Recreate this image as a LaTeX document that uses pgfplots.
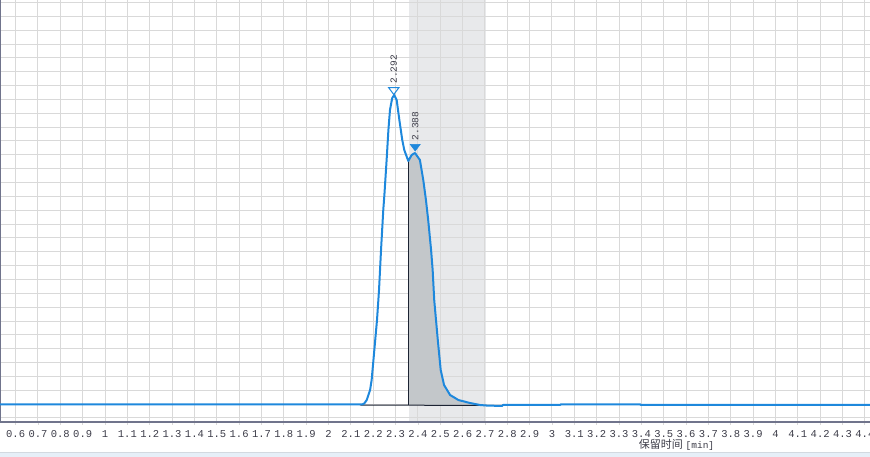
\documentclass[border=0pt]{standalone}
\usepackage{pgfplots}
\pgfplotsset{compat=1.18}
\usepackage{fontspec}
\setmainfont{Liberation Sans}
\newfontfamily\monofont{Liberation Mono}
\newfontfamily\cjk{Noto Sans CJK SC}
\definecolor{curve}{HTML}{1E88DC}
\definecolor{gridcol}{HTML}{D9D9D9}
\definecolor{axiscol}{HTML}{70748C}
\definecolor{bandcol}{HTML}{E8E9EB}
\definecolor{peakfill}{HTML}{C3C7CA}
\definecolor{darkline}{HTML}{1C2333}
\definecolor{labelcol}{HTML}{3C3C48}
\definecolor{stripcol}{HTML}{E6EFF8}
\pgfplotstableread{
x y
0.530 17.5
2.150 17.5
2.160 18.5
2.171 22
2.186 32
2.193 42
2.205 72
2.217 102
2.226 132
2.235 172
2.245 212
2.250 227
2.260 262
2.268 292
2.275 312
2.285 324
2.294 327
2.305 322
2.317 302
2.330 282
2.339 272
2.357 261
2.372 267
2.387 269
2.409 262
2.424 242
2.436 222
2.446 202
2.459 172
2.466 152
2.473 122
2.489 82
2.502 52
2.517 37
2.544 27
2.581 22
2.633 19
2.678 17
2.705 16.5
2.776 16
2.781 17
3.036 17
3.040 17.7
3.394 17.7
3.398 17
4.423 17
}\signal
\begin{document}
\begin{tikzpicture}
\begin{axis}[
  set layers=standard,
  at={(0,0)}, anchor=south west,
  width=870pt, height=422pt, scale only axis,
  xmin=0.53, xmax=4.423, ymin=0, ymax=422,
  axis lines*=left,
  axis line style={draw=axiscol, line width=1.5pt},
  grid=major, grid style={draw=gridcol, line width=1pt},
  xtick={0.6,0.7,...,4.45},
  xticklabels={0.6,0.7,0.8,0.9,1,1.1,1.2,1.3,1.4,1.5,1.6,1.7,1.8,1.9,2,2.1,2.2,2.3,2.4,2.5,2.6,2.7,2.8,2.9,3,3.1,3.2,3.3,3.4,3.5,3.6,3.7,3.8,3.9,4,4.1,4.2,4.3,4.4},
  ytick={4,17.85,...,421},
  yticklabels={},
  ytick style={draw=none},
  xtick style={draw=gridcol, line width=0.8pt},
  tick align=outside, major tick length=3pt,
  x tick label style={font=\monofont\fontsize{10.5}{11}\selectfont, text=labelcol, inner sep=0pt, anchor=north, yshift=-5pt},
  xlabel={{\cjk\fontsize{11}{11}\selectfont 保留时间} {\monofont\fontsize{9.5}{10}\selectfont [min]}},
  xlabel style={at={(axis description cs:0.7776,0)}, anchor=center, yshift=-22.5pt, text=labelcol, inner sep=0pt},
]
\addplot[fill=bandcol, draw=none, on layer=axis background] coordinates {(2.36,0) (2.36,422) (2.705,422) (2.705,0)};
\addplot[fill=peakfill, draw=none] coordinates {(2.360,17) (2.360,262) (2.372,267) (2.387,269) (2.409,262) (2.424,242) (2.436,222) (2.446,202) (2.459,172) (2.466,152) (2.473,122) (2.489,82) (2.502,52) (2.517,37) (2.544,27) (2.581,22) (2.633,19) (2.678,17) (2.705,16.5)};
\addplot[darkline, line width=1pt] coordinates {(2.140,17) (2.710,16.5)};
\addplot[darkline, line width=1pt] coordinates {(2.360,17) (2.360,262)};
\addplot[curve, line width=2pt, line join=round] table[x=x,y=y] {\signal};
\addplot[only marks, mark=triangle, mark size=4.5pt,
  mark options={rotate=180, xscale=1.3, draw=curve, fill=white, line width=1pt},
  point meta=explicit symbolic, nodes near coords,
  nodes near coords style={rotate=90, anchor=west, xshift=6pt, inner sep=0pt, font=\monofont\fontsize{9.5}{10}\selectfont, text=labelcol}]
  coordinates {(2.292,332) [2.292]};
\addplot[only marks, mark=triangle*, mark size=4.5pt,
  mark options={rotate=180, xscale=1.3, draw=curve, fill=curve, line width=0.5pt},
  point meta=explicit symbolic, nodes near coords,
  nodes near coords style={rotate=90, anchor=west, xshift=6pt, inner sep=0pt, font=\monofont\fontsize{9.5}{10}\selectfont, text=labelcol}]
  coordinates {(2.388,275.4) [2.388]};
\end{axis}
\fill[stripcol] (0,-35pt) rectangle (870pt,-30pt);
\draw[stripcol!80!gray, line width=0.5pt] (0,-30pt) -- (870pt,-30pt);
\pgfresetboundingbox
\path[use as bounding box] (0,-35pt) rectangle (870pt,422pt);
\end{tikzpicture}
\end{document}
